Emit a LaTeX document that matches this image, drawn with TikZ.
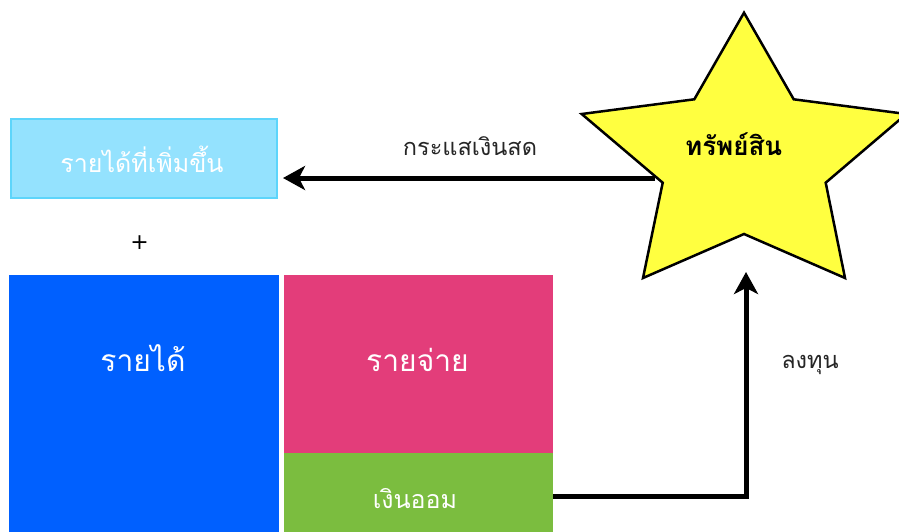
\documentclass[tikz,border=0pt]{standalone}
\usepackage{fontspec}
\newfontfamily\thai[Script=Thai]{Loma}
\newfontfamily\symf{DejaVu Sans}
\usetikzlibrary{arrows.meta}
\definecolor{incfill}{HTML}{94E2FE}
\definecolor{incline}{HTML}{5DD5FB}
\definecolor{revfill}{HTML}{0060FF}
\definecolor{expfill}{HTML}{E33D7A}
\definecolor{savfill}{HTML}{7BBD3F}
\definecolor{starfill}{HTML}{FFFF40}
\tikzset{
  blk/.style={inner sep=0pt, outer sep=0pt, anchor=center},
  lbl/.style={inner sep=0pt, anchor=base, font=\thai\fontsize{23.5}{28}\selectfont, text=black!85},
  wt/.style={inner sep=0pt, anchor=base, text=white},
  arr/.style={line width=5pt, -{Stealth[length=22pt, width=24pt, inset=6pt]}},
}
\begin{document}
\begin{tikzpicture}[x=1pt,y=-1pt]
\useasboundingbox (0,0) rectangle (899,531);
\clip (0,0) rectangle (899,531);
% boxes
\node[blk, fill=incfill, draw=incline, line width=2pt, minimum width=266pt, minimum height=79pt] (inc) at (144,158.5) {};
\node[blk, fill=revfill, minimum width=270pt, minimum height=265pt] (rev) at (144,407.5) {};
\node[blk, fill=expfill, minimum width=269pt, minimum height=178pt] (exp) at (418.5,364) {};
\node[blk, fill=savfill, minimum width=269pt, minimum height=87pt] (sav) at (418.5,496.5) {};
% texts
\node[wt, font=\thai\fontsize{25}{30}\selectfont] (inct) at (142,172.7) {รายได้ที่เพิ่มขึ้น};
\node[wt, font=\thai\fontsize{30}{34}\selectfont] (revt) at (143,371.7) {รายได้};
\node[wt, font=\thai\fontsize{30}{34}\selectfont] (expt) at (417.5,371.7) {รายจ่าย};
\node[wt, font=\thai\fontsize{25}{30}\selectfont] (savt) at (415,508) {เงินออม};
\node[inner sep=0pt, font=\symf\fontsize{22}{26}\selectfont] (plus) at (139.5,243) {+};
% star
\filldraw[fill=starfill, draw=black, line width=2.5pt, line join=miter]
  (744,12.7) -- (793.7,99.3) -- (906.3,114) -- (825.7,182.7) -- (845,278)
  -- (744,234) -- (643,278) -- (662.7,182.7) -- (581.7,114) -- (694.3,99.3) -- cycle;
\node[inner sep=0pt, anchor=base, font=\thai\bfseries\fontsize{26}{30}\selectfont] (ast) at (733.7,155) {ทรัพย์สิน};
\coordinate (sfrom) at (655,178);
\coordinate (sinv) at (746,272);
% connectors
\draw[arr, shorten >=6pt] (sfrom) -- (inc.east |- sfrom);
\draw[arr] (sav.east) -| (sinv);
\node[lbl] (cash) at (470,155) {กระแสเงินสด};
\node[lbl] (inv) at (810,368) {ลงทุน};
\end{tikzpicture}
\end{document}
